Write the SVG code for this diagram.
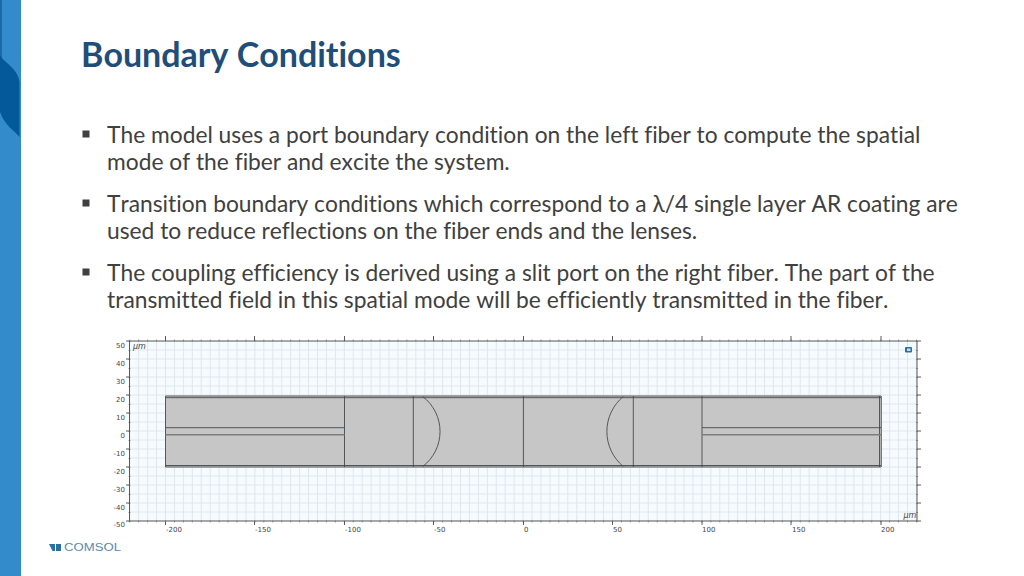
<svg xmlns="http://www.w3.org/2000/svg" width="1024" height="576" viewBox="0 0 1024 576">
<style>
text{font-variant-ligatures:none;font-kerning:none}
.t{font-family:Lato,"Liberation Sans",sans-serif;font-size:22.77px;fill:#404040}
.a{font-family:"DejaVu Sans",sans-serif;font-size:7px;fill:#444}
.e{fill:none;stroke:#46494c;stroke-width:.9}
.g{fill:none;stroke:#dfe6ee;stroke-width:1}
.k{fill:none;stroke:#5a5a5a;stroke-width:1}
.m{fill:none;stroke:#a0a0a0;stroke-width:2}
</style>
<defs>
<pattern id="grid" x="165" y="340.500" width="8.940" height="9" patternUnits="userSpaceOnUse"><path class="g" d="M.5 0V9M0 .5H8.940"/></pattern>
</defs>
<rect width="1024" height="576" fill="#fff"/>
<g id="sidebar">
<rect width="21" height="576" fill="#338bcb"/>
<rect width="2" height="60" fill="#1a6aa8"/>
<path d="M0 55C3 62 18 68 19.500 82V137C14 130 5 126 0 112Z" fill="#045a98"/>
</g>
<text x="81" y="66.500" font-family="Lato,'Liberation Sans',sans-serif" font-weight="700" font-size="34" fill="#1f4e79">Boundary Conditions</text>
<g id="bullets">
<rect x="82.500" y="130.500" width="7" height="7" fill="#404040"/>
<rect x="82.500" y="199.500" width="7" height="7" fill="#404040"/>
<rect x="82.500" y="268.500" width="7" height="7" fill="#404040"/>
<text class="t" x="107" y="142.500">The model uses a port boundary condition on the left fiber to compute the spatial</text>
<text class="t" x="107" y="169.500">mode of the fiber and excite the system.</text>
<text class="t" x="107" y="211.500">Transition boundary conditions which correspond to a λ/4 single layer AR coating are</text>
<text class="t" x="107" y="238.500">used to reduce reflections on the fiber ends and the lenses.</text>
<text class="t" x="107" y="280.500">The coupling efficiency is derived using a slit port on the right fiber. The part of the</text>
<text class="t" x="107" y="307.500">transmitted field in this spatial mode will be efficiently transmitted in the fiber.</text>
</g>
<g id="plot">
<rect x="129.500" y="341" width="787.500" height="180" fill="#f6fbff"/>
<rect x="129.500" y="341" width="787.500" height="180" fill="url(#grid)"/>
<path class="m" stroke-dasharray="1 7.940" d="M129.240 340.500H917M129.240 521.500H917"/>
<path class="m" stroke-dasharray="1 8" d="M129.500 341V522M917 341V522"/>
<path class="k" d="M129.500 341H917M129.500 521H917M129.500 341V521M917 341V521"/>
<path class="k" d="M165.500 336V341M254.500 336V341M344.500 336V341M433.500 336V341M523.500 336V341M612.500 336V341M702 336V341M791 336V341M881 336V341M165.500 521V525M254.500 521V525M344.500 521V525M433.500 521V525M523.500 521V525M612.500 521V525M702 521V525M791 521V525M881 521V525M126 341H130M126 359H130M126 377H130M126 395H130M126 413H130M126 431H130M126 449H130M126 467H130M126 485H130M126 503H130M126 521H130M917 341H921M917 359H921M917 377H921M917 395H921M917 413H921M917 431H921M917 449H921M917 467H921M917 485H921M917 503H921M917 521H921"/>
<g class="a" text-anchor="end">
<text x="125" y="347.500">50</text><text x="125" y="365.500">40</text><text x="125" y="383.500">30</text><text x="125" y="401.500">20</text><text x="125" y="419.500">10</text><text x="125" y="437.500">0</text><text x="125" y="455.500">-10</text><text x="125" y="473.500">-20</text><text x="125" y="491.500">-30</text><text x="125" y="509.500">-40</text><text x="125" y="526.500">-50</text>
</g>
<g class="a">
<text x="166" y="531.500">-200</text><text x="255" y="531.500">-150</text><text x="345" y="531.500">-100</text><text x="434" y="531.500">-50</text><text x="524" y="531.500">0</text><text x="613" y="531.500">50</text><text x="702" y="531.500">100</text><text x="792" y="531.500">150</text><text x="881" y="531.500">200</text>
<text x="133" y="349" font-style="italic" font-size="8">µm</text>
<text x="903.500" y="517.500" font-style="italic" font-size="8">µm</text>
</g>
<rect x="905" y="347" width="7" height="5.500" rx="1" fill="#2f6f9f"/>
<rect x="907" y="348.500" width="3.500" height="2.500" fill="#bfe0ee"/>
</g>
<g id="geometry">
<rect x="165.500" y="396" width="715.500" height="71" fill="#c6c6c6"/>
<path class="e" d="M165.500 396H881M165.500 397.700H881M165.500 465.500H881M165.500 467H881M344.500 396V467M413.300 396V467M523.400 396V467M633.300 396V467M702 396V467M165.500 396V467M879.500 396V467M881.300 396V467M165.500 427.700H344.500M702 427.700H881"/>
<path d="M165.500 434.800H344.500M702 434.800H881" fill="none" stroke="#7d7d7d" stroke-width="1.500"/>
<path class="e" d="M422.700 396.500A44 44 0 0 1 422.700 466.500M623.300 396.500A45.500 45.500 0 0 0 623.300 466.500"/>
</g>
<g id="logo">
<path d="M49 544H55V551H52.500Z" fill="#2b6f9f"/><rect x="56" y="544" width="5" height="7" fill="#2b6f9f"/>
<text x="64" y="551.200" font-family="'Liberation Sans',sans-serif" font-size="10" fill="#5c8aa8" textLength="57" lengthAdjust="spacingAndGlyphs">COMSOL</text>
</g>
</svg>
